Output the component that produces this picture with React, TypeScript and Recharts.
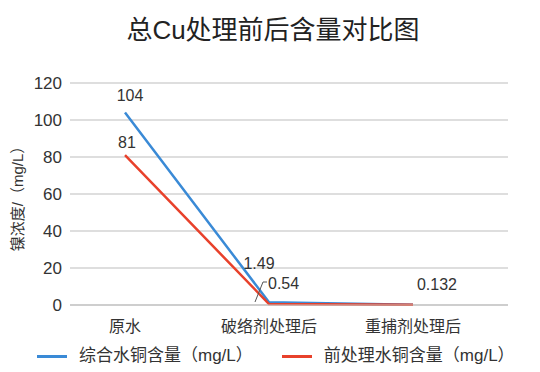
import React from "react";
import { CartesianGrid, Label, Line, LineChart, XAxis, YAxis } from "recharts";

const categories = ["原水", "破络剂处理后", "重捕剂处理后"];
const totalCu = [104, 1.49, 0.2];
const pretreatCu = [81, 0.54, 0.132];
const yTicks = [0, 20, 40, 60, 80, 100, 120];

const seriesNames = ["综合水铜含量（mg/L）", "前处理水铜含量（mg/L）"];
const BLUE = "#3a8ad6";
const RED = "#e8412b";
const FONT = "'Liberation Sans', Arial, 'Noto Sans CJK SC', sans-serif";
const TEXT = "#333333";
const GRID = "#bdbdbd";

const data = categories.map((name, i) => ({
  name,
  total: totalCu[i],
  pre: pretreatCu[i],
}));

// label offsets (dx, dy) relative to each point; null = no label
const blueOffsets: ([number, number] | null)[] = [[5, -17], [-10, -39], null];
const redOffsets: ([number, number] | null)[] = [[2, -13], [0, 0], [24, -20]];

function makeLabel(offsets: ([number, number] | null)[]) {
  return function PointLabel(props: any) {
    const { x, y, value, index } = props;
    const off = offsets[index];
    if (!off) return null;
    // red middle point gets a leader line
    if (offsets === redOffsets && index === 1) {
      return (
        <g>
          <polyline
            points={`${x - 14},${y - 2} ${x - 6},${y - 22} ${x - 2},${y - 22}`}
            fill="none"
            stroke="#555"
            strokeWidth={1}
          />
          <text x={x - 1} y={y - 21} dy="0.35em" fontSize={16} fill={TEXT} fontFamily={FONT}>
            {value}
          </text>
        </g>
      );
    }
    return (
      <text
        x={x + off[0]}
        y={y + off[1]}
        dy="0.35em"
        textAnchor="middle"
        fontSize={16}
        fill={TEXT}
        fontFamily={FONT}
      >
        {value}
      </text>
    );
  };
}

function YTitle() {
  return (
    <text
      x={18}
      y={195}
      transform="rotate(-90, 18, 195)"
      textAnchor="middle"
      dy="0.35em"
      fontSize={15}
      fill={TEXT}
      fontFamily={FONT}
    >
      镍浓度/（mg/L）
    </text>
  );
}

export default function App() {
  return (
    <div style={{ position: "absolute", left: 0, top: 0, width: 540, height: 372, background: "#fff", fontFamily: FONT }}>
      <div
        style={{
          position: "absolute",
          top: 13,
          left: 0,
          width: 546,
          textAlign: "center",
          fontSize: 26,
          color: "#222",
          lineHeight: "34px",
        }}
      >
        总Cu处理前后含量对比图
      </div>
      <LineChart
        width={540}
        height={372}
        data={data}
        margin={{ top: 83, right: 32, bottom: 37, left: 10 }}
      >
        <CartesianGrid vertical={false} stroke={GRID} strokeWidth={1.2} />
        <XAxis
          dataKey="name"
          height={30}
          tickLine={false}
          axisLine={{ stroke: GRID, strokeWidth: 1.2 }}
          tick={{ fontSize: 16, fill: TEXT, fontFamily: FONT }}
          tickMargin={10}
          padding={{ left: 55, right: 95 }}
          interval={0}
        />
        <YAxis
          width={60}
          domain={[0, 120]}
          ticks={yTicks}
          tickLine={false}
          tickSize={0}
          axisLine={false}
          tickMargin={8}
          tick={{ fontSize: 17, fill: TEXT, fontFamily: FONT }}
        >
          <Label content={<YTitle />} />
        </YAxis>
        <Line
          type="linear"
          dataKey="total"
          name={seriesNames[0]}
          stroke={BLUE}
          strokeWidth={2.5}
          dot={false}
          isAnimationActive={false}
          label={makeLabel(blueOffsets)}
        />
        <Line
          type="linear"
          dataKey="pre"
          name={seriesNames[1]}
          stroke={RED}
          strokeWidth={2.5}
          dot={false}
          isAnimationActive={false}
          label={makeLabel(redOffsets)}
        />
      </LineChart>
      <div
        style={{
          position: "absolute",
          top: 345,
          left: 37,
          display: "flex",
          alignItems: "center",
          fontSize: 17,
          color: TEXT,
          lineHeight: "22px",
        }}
      >
        {seriesNames.map((n, i) => (
          <div key={n} style={{ display: "flex", alignItems: "center", marginRight: i === 0 ? 29 : 0 }}>
            <span style={{ display: "inline-block", width: 30, height: 3, background: i === 0 ? BLUE : RED, marginRight: 12 }} />
            <span>{n}</span>
          </div>
        ))}
      </div>
    </div>
  );
}
